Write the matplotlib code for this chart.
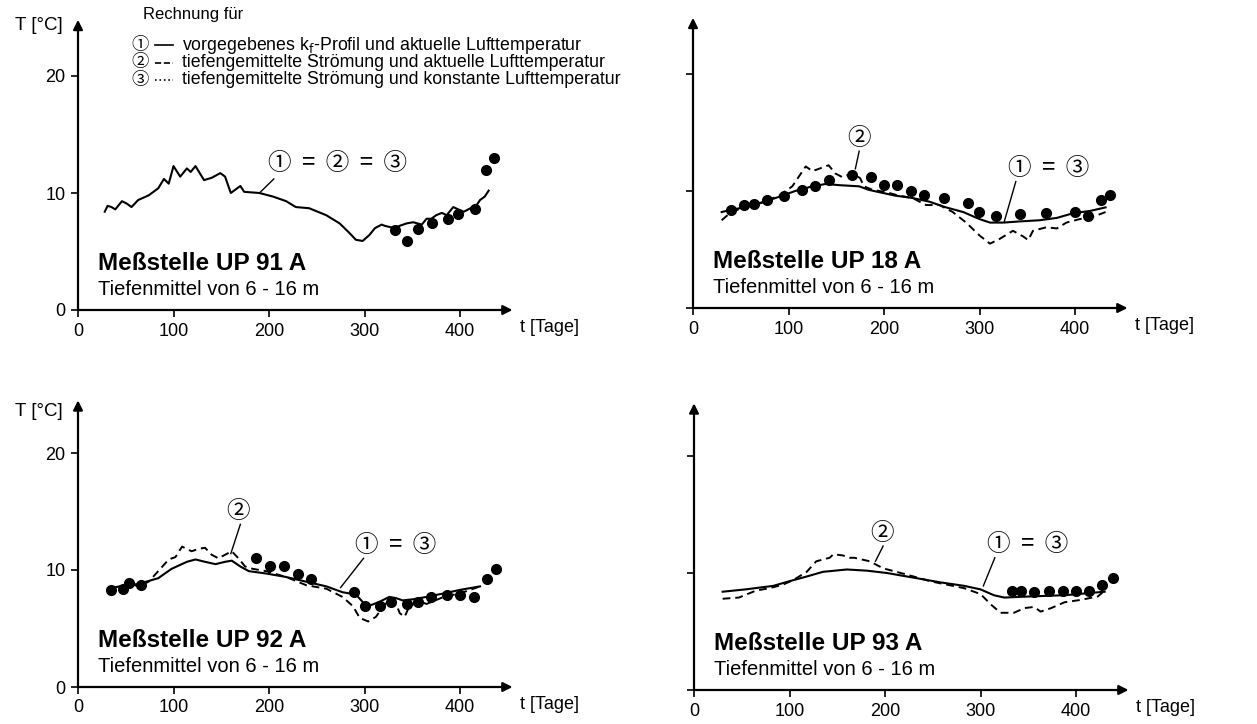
import matplotlib.pyplot as plt
from matplotlib.lines import Line2D

plt.rcParams['font.family'] = ['Liberation Sans', 'DejaVu Sans', 'Noto Sans CJK SC']
CIRC = ['Noto Sans CJK JP', 'DejaVu Sans']

W, H = 1257, 724

# ---- UP 91 A ----
up91_t_solid = [28, 31, 35, 39, 46, 51, 56, 63, 74, 84, 90, 95, 100, 107, 114, 118, 123, 132, 140, 149,
                154, 160, 165, 170, 174, 190, 204, 218, 228, 242, 260, 274, 284, 291, 298, 305, 311, 318,
                321, 326, 332, 337, 344, 351, 360, 365, 370, 375, 381, 386, 393, 398, 404, 411, 416, 421,
                426, 430]
up91_T_solid = [8.4, 8.9, 8.8, 8.6, 9.3, 9.1, 8.8, 9.4, 9.8, 10.4, 11.2, 10.8, 12.3, 11.4, 12.1, 11.8, 12.3,
                11.1, 11.3, 11.7, 11.4, 10.0, 10.3, 10.6, 10.1, 10.0, 9.7, 9.3, 8.8, 8.7, 8.1, 7.4, 6.6,
                6.0, 5.9, 6.4, 7.0, 7.3, 7.2, 7.1, 7.0, 7.2, 7.4, 7.5, 7.3, 7.8, 7.8, 8.1, 8.3, 8.1, 8.8,
                8.6, 8.4, 8.7, 8.8, 9.4, 9.7, 10.2]
up91_t_meas = [332, 344, 356, 371, 387, 398, 416, 427, 436]
up91_T_meas = [6.8, 5.9, 6.9, 7.4, 7.8, 8.2, 8.6, 12.0, 13.0]

# ---- UP 18 A ----
up18_t_solid = [30, 40, 54, 72, 90, 107, 125, 139, 153, 174, 184, 195, 212, 230, 247, 265, 283, 300,
                311, 325, 342, 363, 381, 398, 416, 432]
up18_T_solid = [8.2, 8.4, 8.6, 9.0, 9.5, 10.0, 10.4, 10.6, 10.5, 10.4, 10.1, 9.9, 9.6, 9.4, 9.1, 8.6,
                8.2, 7.6, 7.3, 7.3, 7.4, 7.5, 7.7, 8.1, 8.3, 8.6]
up18_t_dash = [30, 40, 54, 75, 90, 104, 118, 125, 132, 142, 149, 156, 167, 175, 179, 188, 202, 216,
               230, 244, 258, 272, 286, 300, 311, 321, 335, 346, 351, 356, 370, 381, 391, 405, 419, 432]
up18_T_dash = [7.5, 8.2, 8.6, 9.1, 9.6, 10.4, 12.1, 11.7, 11.9, 12.2, 11.5, 11.2, 11.5, 11.1, 10.4, 10.1,
               9.9, 9.6, 9.4, 8.8, 8.8, 8.2, 7.3, 6.2, 5.5, 5.9, 6.6, 6.1, 5.8, 6.6, 6.9, 6.8, 7.3, 7.6,
               7.8, 8.2]
up18_t_meas = [40, 53, 64, 78, 95, 114, 128, 142, 166, 186, 200, 214, 228, 242, 263, 288, 299, 317,
               342, 370, 400, 414, 427, 437]
up18_T_meas = [8.4, 8.8, 8.9, 9.2, 9.6, 10.1, 10.4, 10.9, 11.4, 11.2, 10.5, 10.5, 10.0, 9.7, 9.4, 9.0,
               8.2, 7.9, 8.0, 8.1, 8.2, 7.9, 9.2, 9.7]

# ---- UP 92 A ----
up92_t_solid = [32, 49, 63, 84, 98, 114, 123, 133, 144, 154, 161, 170, 179, 197, 218, 239, 260, 277,
                291, 300, 307, 316, 326, 333, 340, 351, 365, 383, 400, 421]
up92_T_solid = [8.4, 8.7, 8.8, 9.3, 10.1, 10.7, 10.9, 10.7, 10.5, 10.7, 10.8, 10.3, 9.9, 9.7, 9.4, 9.0,
                8.6, 8.1, 7.9, 7.1, 7.0, 7.3, 7.7, 7.6, 7.4, 7.5, 7.7, 8.0, 8.3, 8.6]
up92_t_dash = [32, 46, 53, 63, 74, 84, 95, 102, 109, 114, 119, 126, 133, 140, 147, 154, 161, 168, 175,
               183, 197, 218, 239, 260, 277, 288, 295, 304, 312, 318, 325, 332, 337, 342, 347, 358, 365,
               383, 400, 421]
up92_T_dash = [8.3, 8.4, 8.9, 8.6, 9.0, 9.9, 10.9, 11.1, 12.0, 11.8, 11.6, 11.8, 11.9, 11.3, 11.0, 11.3,
               11.6, 11.0, 10.3, 10.1, 9.9, 9.4, 8.7, 8.4, 7.7, 6.9, 5.9, 5.6, 6.0, 6.7, 7.4, 7.3, 6.3,
               6.0, 6.9, 7.3, 7.1, 7.7, 8.0, 8.6]
up92_t_meas = [35, 47, 53, 66, 186, 201, 216, 230, 244, 289, 301, 316, 328, 344, 356, 370, 386, 400,
               415, 428, 438]
up92_T_meas = [8.3, 8.4, 8.9, 8.7, 11.0, 10.3, 10.3, 9.7, 9.2, 8.1, 6.9, 6.9, 7.3, 7.1, 7.3, 7.7, 7.9,
               7.9, 7.7, 9.2, 10.1]

# ---- UP 93 A ----
up93_t_solid = [30, 54, 83, 100, 118, 135, 160, 181, 202, 230, 258, 283, 300, 314, 325, 353, 388, 430]
up93_T_solid = [8.4, 8.6, 8.9, 9.3, 9.7, 10.1, 10.3, 10.2, 10.0, 9.6, 9.2, 8.9, 8.6, 8.1, 7.9, 8.0,
                8.1, 8.4]
up93_t_dash = [30, 47, 65, 79, 93, 104, 118, 128, 142, 146, 156, 163, 168, 184, 198, 212, 230, 247,
               265, 283, 300, 311, 321, 335, 346, 356, 363, 374, 388, 405, 423, 430]
up93_T_dash = [7.8, 7.9, 8.5, 8.7, 9.0, 9.4, 10.1, 11.0, 11.3, 11.6, 11.5, 11.3, 11.3, 11.0, 10.4, 10.1,
               9.7, 9.3, 9.0, 8.7, 8.2, 7.3, 6.6, 6.6, 7.0, 7.1, 6.7, 7.0, 7.5, 7.7, 8.0, 8.5]
up93_t_meas = [333, 342, 356, 372, 386, 400, 414, 427, 439]
up93_T_meas = [8.5, 8.5, 8.4, 8.5, 8.5, 8.5, 8.5, 9.0, 9.6]

x_ticks = [0, 100, 200, 300, 400]
y_ticks = [0, 10, 20]

legend_rows = [('①', '-', 'vorgegebenes k$_\\mathrm{f}$-Profil und aktuelle Lufttemperatur'),
               ('②', '--', 'tiefengemittelte Strömung und aktuelle Lufttemperatur'),
               ('③', ':', 'tiefengemittelte Strömung und konstante Lufttemperatur')]

fig = plt.figure(figsize=(W / 100, H / 100), dpi=100)


def px_rect(left, bottom, ytop):
    # axes rect from pixel positions of the origin
    w = 455 * 0.955
    h = ytop * 11.7
    return [left / W, (H - bottom) / H, w / W, h / H]


panels = [
    dict(rect=px_rect(78, 310, 24.8), ytop=24.8, name='Meßstelle UP 91 A', labels=True,
         solid=(up91_t_solid, up91_T_solid), dash=None, meas=(up91_t_meas, up91_T_meas),
         notes=[('①  =  ②  =  ③', 272, 12.5, (205, 11.2), (190, 10.0))]),
    dict(rect=px_rect(693, 308, 24.8), ytop=24.8, name='Meßstelle UP 18 A', labels=False,
         solid=(up18_t_solid, up18_T_solid), dash=(up18_t_dash, up18_T_dash),
         meas=(up18_t_meas, up18_T_meas),
         notes=[('②', 174, 14.5, (174, 13.4), (170, 11.9)),
                ('①  =  ③', 372, 11.9, (338, 10.8), (326, 7.4))]),
    dict(rect=px_rect(78, 687, 24.5), ytop=24.5, name='Meßstelle UP 92 A', labels=True,
         solid=(up92_t_solid, up92_T_solid), dash=(up92_t_dash, up92_T_dash),
         meas=(up92_t_meas, up92_T_meas),
         notes=[('②', 168, 15.0, (170, 13.9), (160, 11.4)),
                ('①  =  ③', 333, 12.1, (299, 11.0), (275, 8.5))]),
    dict(rect=px_rect(694, 690, 24.5), ytop=24.5, name='Meßstelle UP 93 A', labels=False,
         solid=(up93_t_solid, up93_T_solid), dash=(up93_t_dash, up93_T_dash),
         meas=(up93_t_meas, up93_T_meas),
         notes=[('②', 197, 13.4, (198, 12.3), (190, 11.0)),
                ('①  =  ③', 349, 12.4, (315, 11.3), (303, 8.9))]),
]

for p in panels:
    ax = fig.add_axes(p['rect'])
    ax.set_xlim(0, 455)
    ax.set_ylim(0, p['ytop'])
    for s in ax.spines.values():
        s.set_visible(False)
    arrow = dict(arrowstyle='-|>', lw=1.6, color='black', mutation_scale=14, shrinkA=0, shrinkB=0)
    ax.annotate('', xy=(1, 0), xytext=(0, 0), xycoords='axes fraction', arrowprops=arrow)
    ax.annotate('', xy=(0, 1), xytext=(0, 0), xycoords='axes fraction', arrowprops=arrow)
    ax.set_xticks(x_ticks)
    ax.set_yticks(y_ticks)
    ax.tick_params(direction='out', length=5, width=1.2, labelsize=13, pad=4)
    if not p['labels']:
        ax.tick_params(axis='y', labelleft=False)

    ax.plot(*p['solid'], color='black', lw=1.5)
    if p['dash']:
        ax.plot(*p['dash'], color='black', lw=1.4, dashes=(4, 2.5))
    ax.plot(*p['meas'], 'o', color='black', ms=7, clip_on=False)

    for txt, x, y, l0, l1 in p['notes']:
        ax.text(x, y, txt, ha='center', va='center', fontsize=17, family=CIRC)
        ax.plot([l0[0], l1[0]], [l0[1], l1[1]], color='black', lw=1.0)

    ax.text(21, 3.4, p['name'], fontsize=17.5, fontweight='bold')
    ax.text(21, 1.25, 'Tiefenmittel von 6 - 16 m', fontsize=14.5)
    ax.text(463, -0.8, 't [Tage]', fontsize=13, va='top', ha='left', clip_on=False)

fig.text(15 / W, 1 - 26 / H, 'T [°C]', fontsize=13.5, va='center')
fig.text(15 / W, 1 - 412 / H, 'T [°C]', fontsize=13.5, va='center')

# legend block
fig.text(143 / W, 1 - 15 / H, 'Rechnung für', fontsize=12, va='center')
for i, (num, ls, label) in enumerate(legend_rows):
    y = 1 - (45 + 17.5 * i) / H
    fig.text(140 / W, y, num, fontsize=12.5, ha='center', va='center', family=CIRC)
    fig.add_artist(Line2D([155 / W, 173 / W], [y, y], color='black', lw=1.2,
                          linestyle=ls, transform=fig.transFigure))
    fig.text(182 / W, y, label, fontsize=12.8, va='center')

fig.savefig('out.png', dpi=100)
